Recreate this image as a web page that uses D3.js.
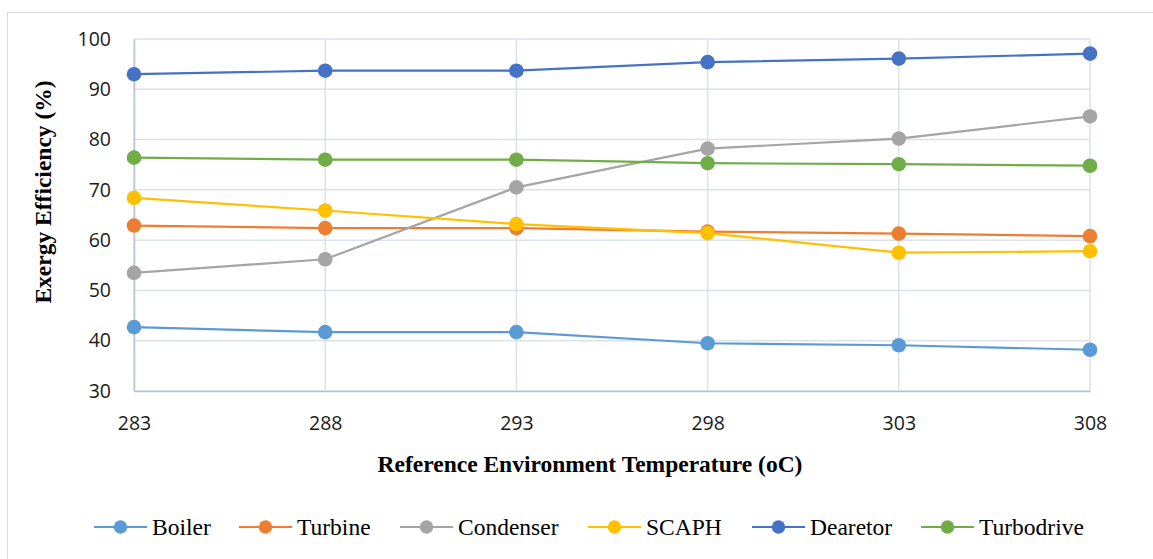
<!DOCTYPE html>
<html>
<head>
<meta charset="utf-8">
<script src="https://cdn.jsdelivr.net/npm/d3@7"></script>
<style>
  body { margin: 0; background: #fff; }
  .tick text { font-family: "Open Sans", "Noto Sans", sans-serif; font-size: 19.5px; fill: #1a1a1a; }
</style>
</head>
<body>
<svg id="chart"></svg>
<script>
// data
const temps = [283, 288, 293, 298, 303, 308];
const boiler = [42.7, 41.7, 41.7, 39.5, 39.1, 38.2];
const turbine = [62.9, 62.4, 62.4, 61.7, 61.3, 60.8];
const condenser = [53.5, 56.2, 70.5, 78.2, 80.2, 84.6];
const scaph = [68.4, 65.9, 63.2, 61.4, 57.5, 57.8];
const dearetor = [93.0, 93.7, 93.7, 95.4, 96.1, 97.1];
const turbodrive = [76.4, 76.0, 76.0, 75.3, 75.1, 74.8];
const yTicks = [30, 40, 50, 60, 70, 80, 90, 100];

const seriesNames = ["Boiler", "Turbine", "Condenser", "SCAPH", "Dearetor", "Turbodrive"];
const seriesValues = [boiler, turbine, condenser, scaph, dearetor, turbodrive];
const colors = ["#5B9BD5", "#ED7D31", "#A5A5A5", "#FFC000", "#4472C4", "#70AD47"];

// constants
const width = 1153;
const height = 559;
const margin = { left: 134, right: 63, top: 39, bottom: 168 };
const visWidth = width - margin.left - margin.right;
const visHeight = height - margin.top - margin.bottom;
const serif = "'Liberation Serif', 'Times New Roman', serif";

var svg = d3.select("svg#chart").attr("width", width).attr("height", height);

// chart border
svg.append("rect")
    .attr("x", 7.5).attr("y", 12.5)
    .attr("width", width).attr("height", height)
    .attr("fill", "none").attr("stroke", "#d9d9d9");

var g = svg.append("g").attr("transform", "translate(" + margin.left + "," + margin.top + ")");

var x = d3.scalePoint().domain(temps).range([0, visWidth]);
var y = d3.scaleLinear().domain([30, 100]).range([visHeight, 0]);

// gridlines
g.append("g").selectAll("line").data(yTicks).enter().append("line")
    .attr("x1", 0).attr("x2", visWidth)
    .attr("y1", d => y(d)).attr("y2", d => y(d))
    .attr("stroke", "#dde1ea").attr("stroke-width", 1.5);
g.append("g").selectAll("line").data(temps).enter().append("line")
    .attr("x1", d => x(d)).attr("x2", d => x(d))
    .attr("y1", 0).attr("y2", visHeight)
    .attr("stroke", "#dde1ea").attr("stroke-width", 1.5);

// axes
var yAxis = g.append("g")
    .call(d3.axisLeft(y).tickValues(yTicks).tickSize(0).tickPadding(23));
yAxis.select(".domain").attr("stroke", "#b7c2d6").attr("stroke-width", 1.5);

var xAxis = g.append("g")
    .attr("transform", "translate(0," + visHeight + ")")
    .call(d3.axisBottom(x).tickSize(0).tickPadding(25));
xAxis.select(".domain").attr("stroke", "#b7c2d6").attr("stroke-width", 1.5);

// axis titles
svg.append("text")
    .attr("text-anchor", "middle")
    .attr("transform", "translate(51,192) rotate(-90)")
    .style("font-family", serif)
    .style("font-weight", "bold").style("font-size", "23.5px")
    .text("Exergy Efficiency (%)");

svg.append("text")
    .attr("text-anchor", "middle")
    .attr("x", 590)
    .attr("y", 472)
    .style("font-family", serif)
    .style("font-weight", "bold").style("font-size", "23.5px")
    .text("Reference Environment Temperature (oC)");

// lines
var line = d3.line()
    .x((d, i) => x(temps[i]))
    .y(d => y(d));

var series = g.append("g").selectAll("g")
    .data(seriesValues).enter().append("g");

series.append("path")
    .attr("d", d => line(d))
    .attr("fill", "none")
    .attr("stroke", (d, i) => colors[i])
    .attr("stroke-width", 2.2);

series.each(function(vals, i) {
    d3.select(this).selectAll("circle").data(vals).enter().append("circle")
        .attr("cx", (d, j) => x(temps[j]))
        .attr("cy", d => y(d))
        .attr("r", 7.3)
        .attr("fill", colors[i]);
});

// legend
var legendX = [94, 239, 400, 588, 752, 921];
var legend = svg.append("g").selectAll("g")
    .data(seriesNames).enter().append("g")
    .attr("transform", (d, i) => "translate(" + legendX[i] + ",527)");

legend.append("line")
    .attr("x1", 0).attr("x2", 53)
    .attr("stroke", (d, i) => colors[i]).attr("stroke-width", 2.2);
legend.append("circle")
    .attr("cx", 26.5).attr("r", 6.7)
    .attr("fill", (d, i) => colors[i]);
legend.append("text")
    .attr("x", 58).attr("y", 8)
    .style("font-family", serif)
    .style("font-size", "23.5px")
    .text(d => d);
</script>
</body>
</html>
